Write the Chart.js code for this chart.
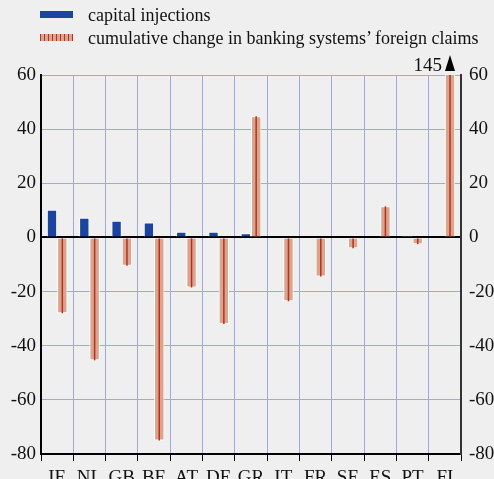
<!doctype html>
<html lang="en">
<head>
    <meta charset="utf-8">
    <title>Capital injections and foreign claims</title>
    <script src="https://cdn.jsdelivr.net/npm/chart.js"></script>
    <style>
        html, body { margin: 0; padding: 0; background: #efefef; overflow: hidden; }
        #wrap { position: relative; width: 494px; height: 479px; }
        .legend { position: absolute; left: 40px; font: 18px "Liberation Serif", "DejaVu Serif", serif; color: #111; white-space: nowrap; }
        .legend span.box { display: inline-block; width: 33px; height: 7px; margin-right: 15px; vertical-align: 3px; }
        #lg1 { top: 5px; }
        #lg2 { top: 28px; }
        #lg1 .box { background: #1a44a0; }
        #lg2 .box { background: repeating-linear-gradient(90deg, #b5321e 0 1px, #dba48f 1px 4px); }
    </style>
</head>
<body>
    <div id="wrap">
        <canvas id="chart" width="494" height="479"></canvas>
        <div class="legend" id="lg1"><span class="box"></span>capital injections</div>
        <div class="legend" id="lg2"><span class="box"></span>cumulative change in banking systems’ foreign claims</div>
    </div>
    <script>
        const countries = ['IE', 'NL', 'GB', 'BE', 'AT', 'DE', 'GR', 'IT', 'FR', 'SE', 'ES', 'PT', 'FI'];
        const capitalInjections = [10.2, 7.3, 6.2, 5.5, 2.1, 2.1, 1.5, 0.3, 0, 0.3, 0, 0.2, 0];
        const foreignClaims = [-28, -45.4, -10.5, -75, -18.5, -32, 44.8, -23.6, -14.4, -4, 11.5, -2.5, 145];
        const yMin = -80, yMax = 60, yStep = 20;

        const serif = '"Liberation Serif", "DejaVu Serif", serif';
        const gridBlue = '#a0a8e0';

        // dark red line down the middle of each foreign-claims bar
        const stripePlugin = {
            id: 'stripes',
            afterDatasetsDraw(chart) {
                const ctx = chart.ctx, a = chart.chartArea;
                ctx.save();
                ctx.beginPath();
                ctx.rect(a.left, a.top, a.right - a.left, a.bottom - a.top);
                ctx.clip();
                ctx.strokeStyle = '#b5321e';
                ctx.lineWidth = 1.5;
                chart.getDatasetMeta(1).data.forEach(el => {
                    ctx.beginPath();
                    ctx.moveTo(el.x, el.y);
                    ctx.lineTo(el.x, el.base);
                    ctx.stroke();
                });
                ctx.restore();
            }
        };

        // value label and arrow for bars running off the top
        const overflowPlugin = {
            id: 'overflow',
            afterDraw(chart) {
                const ctx = chart.ctx, a = chart.chartArea;
                const meta = chart.getDatasetMeta(1);
                foreignClaims.forEach((v, i) => {
                    if (v <= yMax) return;
                    const x = meta.data[i].x;
                    ctx.save();
                    ctx.fillStyle = '#000';
                    ctx.beginPath();
                    ctx.moveTo(x, a.top - 20);
                    ctx.lineTo(x - 5, a.top - 4);
                    ctx.lineTo(x + 5, a.top - 4);
                    ctx.closePath();
                    ctx.fill();
                    ctx.font = '19px ' + serif;
                    ctx.textAlign = 'right';
                    ctx.textBaseline = 'alphabetic';
                    ctx.fillStyle = '#111';
                    ctx.fillText(String(v), x - 8, a.top - 4);
                    ctx.restore();
                });
            }
        };

        new Chart(document.getElementById('chart'), {
            type: 'bar',
            data: {
                labels: countries,
                datasets: [{
                    label: 'capital injections',
                    data: capitalInjections,
                    backgroundColor: '#1a44a0',
                    borderColor: '#ffffff',
                    borderWidth: 1,
                    yAxisID: 'y'
                }, {
                    label: 'cumulative change in banking systems’ foreign claims',
                    data: foreignClaims,
                    backgroundColor: '#dba48f',
                    borderColor: '#ffffff',
                    borderWidth: 1,
                    yAxisID: 'y'
                }]
            },
            options: {
                responsive: false,
                animation: false,
                layout: { padding: { top: 75, left: 0, right: 0, bottom: 0 } },
                datasets: { bar: { categoryPercentage: 0.64, barPercentage: 1 } },
                plugins: { legend: { display: false }, tooltip: { enabled: false } },
                scales: {
                    x: {
                        grid: { offset: true, color: gridBlue, tickColor: '#000', tickLength: 7, lineWidth: 1 },
                        border: { color: '#000', width: 2 },
                        ticks: {
                            color: '#111', font: { family: serif, size: 19 }, padding: 6,
                            autoSkip: false, maxRotation: 0, minRotation: 0
                        },
                        afterFit: s => { s.height = 25; }
                    },
                    y: {
                        min: yMin, max: yMax,
                        ticks: { stepSize: yStep, color: '#111', font: { family: serif, size: 19 }, padding: 5 },
                        grid: {
                            drawTicks: false,
                            color: c => c.tick && c.tick.value === 0 ? '#000' : gridBlue,
                            lineWidth: c => c.tick && c.tick.value === 0 ? 2 : 1
                        },
                        border: { color: '#000', width: 2 },
                        afterFit: s => { s.width = 41; }
                    },
                    y2: {
                        position: 'right',
                        min: yMin, max: yMax,
                        ticks: { stepSize: yStep, color: '#111', font: { family: serif, size: 19 }, padding: 8 },
                        grid: { drawOnChartArea: false, drawTicks: false },
                        border: { color: '#333', width: 2 },
                        afterFit: s => { s.width = 33; }
                    }
                }
            },
            plugins: [stripePlugin, overflowPlugin]
        });
    </script>
</body>
</html>
